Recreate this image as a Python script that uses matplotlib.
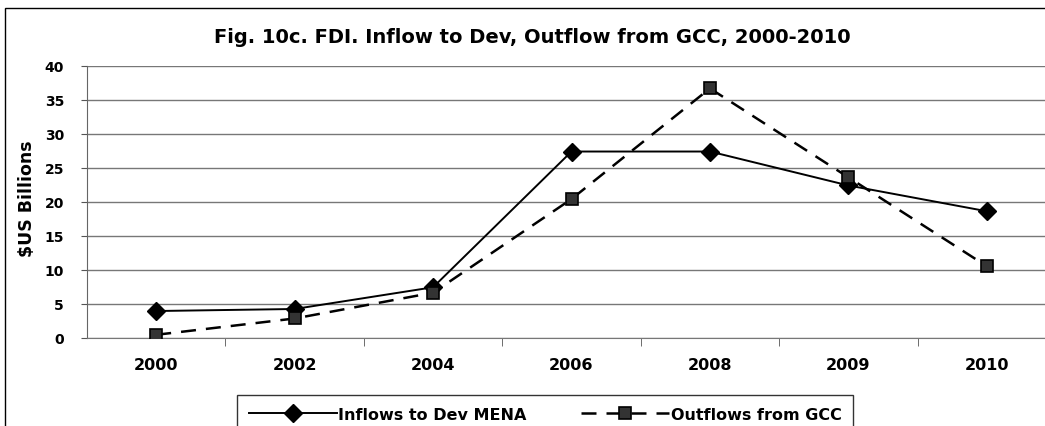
import matplotlib
matplotlib.use('Agg')
import matplotlib.pyplot as plt
from matplotlib.patches import Rectangle

years = ['2000', '2002', '2004', '2006', '2008', '2009', '2010']
inflows_dev_mena = [3.9, 4.2, 7.4, 27.4, 27.4, 22.4, 18.6]
outflows_gcc = [0.4, 2.8, 6.6, 20.4, 36.7, 23.6, 10.5]
y_ticks = [0, 5, 10, 15, 20, 25, 30, 35, 40]

# the source text is letter-spaced Arial; DejaVu's wider glyphs get closer in width
plt.rcParams['font.family'] = ['DejaVu Sans']
plt.rcParams['font.weight'] = 'bold'

W, H = 1045, 427
fig = plt.figure(figsize=(W / 100, H / 100), dpi=100)

# plot area runs past the right edge of the picture, like the source
ax = fig.add_axes([87 / W, 1 - 338.5 / H, (1056 - 87) / W, (338.5 - 67) / H])

x = list(range(len(years)))
ax.plot(x, inflows_dev_mena, color='black', lw=1.4, marker='D', ms=9,
        mfc='black', mec='black', label='Inflows to Dev MENA', zorder=3)
ax.plot(x, outflows_gcc, color='black', lw=1.8, dashes=(6, 4), marker='s', ms=8.5,
        mfc='#333333', mec='black', mew=1.2, label='Outflows from GCC', zorder=3)

ax.set_xlim(-0.5, len(years) - 0.5)
ax.set_ylim(0, 40)
ax.set_yticks(y_ticks)
ax.set_xticks(x)
ax.set_xticklabels(years)
ax.set_xticks([i + 0.5 for i in x[:-1]], minor=True)

ax.grid(axis='y', color='#777777', lw=1)
ax.set_axisbelow(True)
for s in ['top', 'right']:
    ax.spines[s].set_visible(False)
ax.spines['left'].set_color('#666666')
ax.spines['bottom'].set_color('#777777')

ax.tick_params(axis='x', which='major', length=0, pad=14, labelsize=11.5)
ax.tick_params(axis='x', which='minor', length=6, direction='out', color='#555555')
ax.tick_params(axis='y', length=4.5, direction='out', color='#555555', pad=12, labelsize=10)
for lab in ax.get_xticklabels() + ax.get_yticklabels():
    lab.set_fontweight('bold')

fig.text(532 / W, 1 - 43 / H, 'Fig. 10c. FDI. Inflow to Dev, Outflow from GCC, 2000-2010',
         ha='center', va='baseline', fontsize=14, fontweight='bold')
fig.text(27 / W, 1 - 199 / H, r'\$US Billions', rotation=90, ha='center', va='center',
         fontsize=12.5, fontweight='bold')

# outer chart border (right and bottom edges fall outside the image)
fig.patches.append(Rectangle((5 / W, -0.1), 1.2, 1 - 9 / H + 0.1, transform=fig.transFigure,
                             fill=False, ec='black', lw=1))

leg = ax.legend(loc='upper left', bbox_to_anchor=(237 / W, 1 - 396 / H),
                bbox_transform=fig.transFigure, ncol=2, frameon=True, fancybox=False,
                edgecolor='black', fontsize=11.5, handlelength=5.5, handletextpad=0.1,
                columnspacing=3.4, borderpad=0.75, borderaxespad=0)
leg.get_frame().set_linewidth(1)
for t in leg.get_texts():
    t.set_fontweight('bold')

fig.savefig('out.png', dpi=100)
